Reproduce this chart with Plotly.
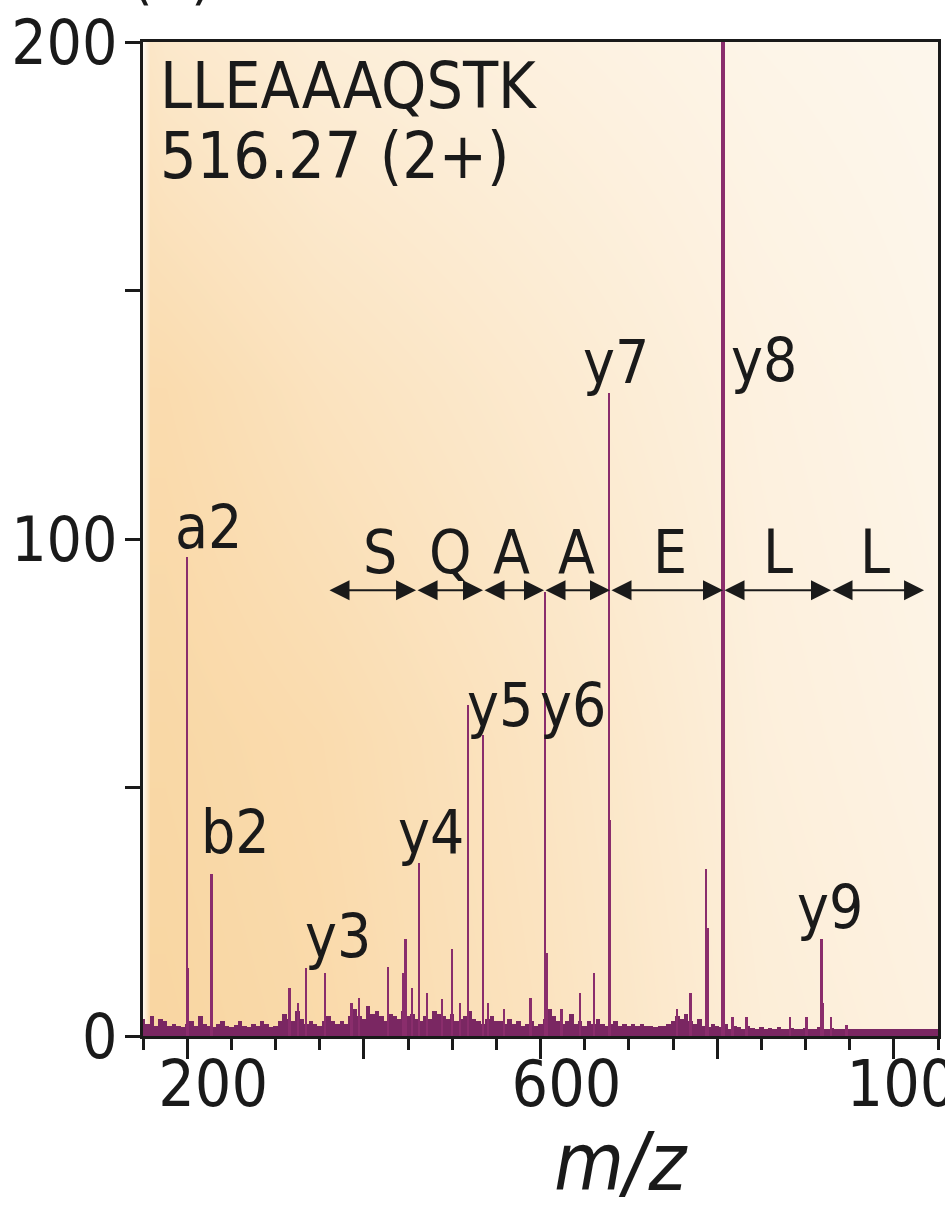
import plotly.graph_objects as go

# ---------------- data ----------------
peptide = "LLEAAAQSTK"
precursor = "516.27 (2+)"

# fragment / major peaks (m/z, relative intensity)
peak_mz = [199.8, 201.5, 227.8, 316.1, 325.5, 334.5, 356.0, 386.3, 394.5, 427.4,
           444.3, 447.4, 454.5, 463.0, 472.1, 488.5, 499.8, 508.9, 517.9, 534.9,
           540.6, 558.7, 588.9, 605.1, 607.7, 624.0, 644.7, 660.6, 677.6, 679.3,
           755.1, 770.0, 787.4, 789.3, 806.3, 807.8, 817.6, 833.4, 882.5, 901.4,
           918.3, 919.8, 928.9, 946.6]
peak_int = [96.4, 13.7, 32.6, 9.7, 6.6, 13.7, 12.7, 6.6, 7.6, 13.9,
            12.7, 19.5, 9.7, 34.8, 8.7, 7.4, 17.5, 6.6, 66.6, 60.6,
            6.6, 5.4, 7.6, 89.3, 16.7, 5.4, 8.6, 12.7, 129.4, 43.5,
            5.4, 8.6, 33.6, 21.7, 200.0, 109.5, 3.8, 3.8, 3.8, 3.8,
            19.5, 6.6, 3.8, 2.2]

# chemical noise floor, sampled every 5 m/z from 150 to 1050
noise_mz = list(range(150, 1051, 5))
noise_int = [3.5, 2.5, 4.0, 2.0, 3.5, 3.0, 2.0, 2.5, 2.0, 1.8, 2.5,
             3.0, 2.0, 4.0, 2.5, 2.0, 1.8, 2.5, 3.0, 2.0, 1.8,
             2.2, 3.0, 2.0, 1.8, 2.5, 2.0, 3.0, 2.5, 1.8, 2.0,
             3.0, 4.5, 3.5, 3.0, 5.0, 3.5, 2.5, 3.0, 2.5, 2.0,
             3.0, 4.0, 3.0, 2.5, 3.0, 2.5, 4.0, 5.5, 4.0, 3.5,
             6.0, 4.5, 5.0, 4.0, 3.0, 4.5, 4.0, 3.5, 5.0, 4.0,
             4.5, 3.5, 3.0, 4.0, 3.5, 5.0, 4.5, 4.0, 3.5, 4.5,
             3.0, 3.5, 4.0, 5.0, 3.5, 3.0, 2.5, 3.5, 4.0, 3.0,
             3.0, 2.5, 3.5, 2.5, 3.0, 2.0, 2.5, 3.0, 2.0, 2.5,
             3.5, 5.5, 4.0, 3.0, 2.5, 3.0, 4.5, 2.5, 3.0, 2.0,
             3.0, 2.5, 3.5, 2.5, 2.0, 2.5, 3.0, 2.0, 2.5, 2.0,
             2.5, 2.0, 2.5, 2.0, 2.0, 1.8, 2.0, 2.0, 2.5, 3.0,
             4.0, 3.5, 4.5, 3.0, 2.5, 3.5, 2.0, 1.8, 2.5, 2.0,
             1.8, 2.5, 1.5, 2.0, 1.8, 1.5, 2.0, 1.6, 1.5, 1.8,
             1.5, 1.6, 1.5, 1.8, 1.5, 1.5, 1.6, 1.5, 1.5, 1.6,
             1.5, 1.5, 1.8, 1.5, 1.5, 1.6, 1.5, 1.5, 1.5, 1.5,
             1.5, 1.5, 1.5, 1.5, 1.5, 1.5, 1.5, 1.5, 1.5, 1.5,
             1.5, 1.5, 1.5, 1.5, 1.5, 1.5, 1.5, 1.5, 1.5, 1.5]

# ion labels (text, m/z, intensity position of label)
ion_labels = ["a2", "b2", "y3", "y4", "y5", "y6", "y7", "y8", "y9"]
ion_label_mz = [223.6, 254.2, 370.8, 476.0, 554.2, 636.8, 685.5, 853.0, 927.8]
ion_label_y = [102.5, 41.0, 20.1, 41.0, 66.6, 66.6, 135.6, 136.0, 26.0]

# sequence ladder
residues = ["S", "Q", "A", "A", "E", "L", "L"]
ladder_edges = [359.4, 459.1, 534.9, 604.0, 678.7, 806.6, 928.9, 1034.2]
residue_label_mz = [418.3, 497.6, 567.7, 641.3, 746.6, 868.9, 978.7]
ladder_y = 89.7
residue_label_y = 97.4

x_tickvals = [200, 400, 600, 800, 1000]
x_ticktext = ["200", "", "600", "", "1000"]
y_tickvals = [0, 50, 100, 150, 200]
y_ticktext = ["0", "", "100", "", "200"]

# ---------------- style ----------------
FONT = "Liberation Sans Narrow, Arial Narrow, DejaVu Sans Condensed, Liberation Sans, sans-serif"
PEAK_COLOR = "#8a2d6c"
NOISE_COLOR = "#7a2762"
INK = "#1a1a1a"

PLOT_L, PLOT_T, PLOT_R, PLOT_B = 143, 42, 938, 1036
FIG_W, FIG_H = 945, 1211
PLOT_W, PLOT_H = PLOT_R - PLOT_L, PLOT_B - PLOT_T

# background shading grid (style only)
bg_x = [150, 158, 175, 350, 600, 850, 1050]
bg_y = [0, 60, 130, 200]
bg_z = [[0.10, 1.00, 1.00, 0.90, 0.65, 0.35, 0.25],
        [0.10, 0.95, 0.95, 0.85, 0.60, 0.30, 0.20],
        [0.10, 0.85, 0.85, 0.65, 0.45, 0.25, 0.15],
        [0.05, 0.55, 0.50, 0.35, 0.25, 0.15, 0.10]]

fig = go.Figure()

fig.add_trace(go.Heatmap(
    x=bg_x, y=bg_y, z=bg_z, zsmooth="best", showscale=False, hoverinfo="skip",
    zmin=0, zmax=1,
    colorscale=[[0, "rgb(254,250,244)"], [1, "rgb(249,214,162)"]],
))

fig.add_trace(go.Bar(
    x=noise_mz, y=noise_int, width=5, marker=dict(color=NOISE_COLOR, line=dict(width=0)),
    hoverinfo="skip", showlegend=False,
))

base = max(peak_int)
widths = [4.5 if v == base else 2.0 for v in peak_int]
fig.add_trace(go.Bar(
    x=peak_mz, y=peak_int, width=widths,
    marker=dict(color=PEAK_COLOR, line=dict(width=0)), showlegend=False,
))


def px_x(px):
    return (px - PLOT_L) / PLOT_W


def px_y(py):
    return (PLOT_B - py) / PLOT_H


annotations = []
for t, xm, ym in zip(ion_labels, ion_label_mz, ion_label_y):
    annotations.append(dict(x=xm, y=ym, xref="x", yref="y", text=t, showarrow=False,
                            xanchor="center", yanchor="middle",
                            font=dict(family=FONT, size=60, color=INK)))
for t, xm in zip(residues, residue_label_mz):
    annotations.append(dict(x=xm, y=residue_label_y, xref="x", yref="y", text=t, showarrow=False,
                            xanchor="center", yanchor="middle",
                            font=dict(family=FONT, size=60, color=INK)))
for a, b in zip(ladder_edges[:-1], ladder_edges[1:]):
    annotations.append(dict(x=b, y=ladder_y, ax=a, ay=ladder_y, xref="x", yref="y",
                            axref="x", ayref="y", text="", showarrow=True,
                            arrowhead=2, startarrowhead=2, arrowside="end+start",
                            arrowsize=2.0, startarrowsize=2.0, arrowwidth=2,
                            arrowcolor=INK, standoff=0, startstandoff=0))

# peptide text
annotations.append(dict(x=px_x(158), y=px_y(86), xref="paper", yref="paper",
                        text=peptide, showarrow=False, xanchor="left", yanchor="middle",
                        font=dict(family=FONT, size=64, color=INK)))
annotations.append(dict(x=px_x(158), y=px_y(156), xref="paper", yref="paper",
                        text=precursor, showarrow=False, xanchor="left", yanchor="middle",
                        font=dict(family=FONT, size=64, color=INK)))
# panel letter (cropped at top)
annotations.append(dict(x=px_x(172), y=px_y(14), xref="paper", yref="paper",
                        text="(A)", showarrow=False, xanchor="center", yanchor="bottom",
                        font=dict(family=FONT, size=62, color=INK)))
# axis title
annotations.append(dict(x=px_x(621), y=px_y(1162), xref="paper", yref="paper",
                        text="<i>m/z</i>", showarrow=False, xanchor="center", yanchor="middle",
                        font=dict(family=FONT, size=80, color=INK)))

fig.update_layout(
    width=FIG_W, height=FIG_H,
    margin=dict(l=PLOT_L, r=FIG_W - PLOT_R, t=PLOT_T, b=FIG_H - PLOT_B, autoexpand=False),
    paper_bgcolor="white", plot_bgcolor="white",
    barmode="overlay", bargap=0, showlegend=False,
    annotations=annotations,
    font=dict(family=FONT, color=INK),
)
fig.update_xaxes(
    range=[150, 1050], showgrid=False, zeroline=False, automargin=False,
    showline=True, linecolor=INK, linewidth=3, mirror=True,
    ticks="outside", ticklen=20, tickwidth=3, tickcolor=INK,
    tickvals=x_tickvals, ticktext=x_ticktext, ticklabeloverflow="allow",
    ticklabelstandoff=-30, ticklabelshift=26,
    tickfont=dict(family=FONT, size=64, color=INK),
    minor=dict(ticks="outside", ticklen=11, tickwidth=3, tickcolor=INK, tick0=150, dtick=50),
)
fig.update_yaxes(
    range=[0, 200], showgrid=False, zeroline=False, automargin=False,
    showline=True, linecolor=INK, linewidth=3, mirror=True,
    ticks="outside", ticklen=15, tickwidth=3, tickcolor=INK,
    tickvals=y_tickvals, ticktext=y_ticktext, ticklabelstandoff=-5,
    ticklabeloverflow="allow",
    tickfont=dict(family=FONT, size=62, color=INK),
)

fig.write_html("out.html", config={"displayModeBar": False},
               post_script="document.body.style.margin='0';")
